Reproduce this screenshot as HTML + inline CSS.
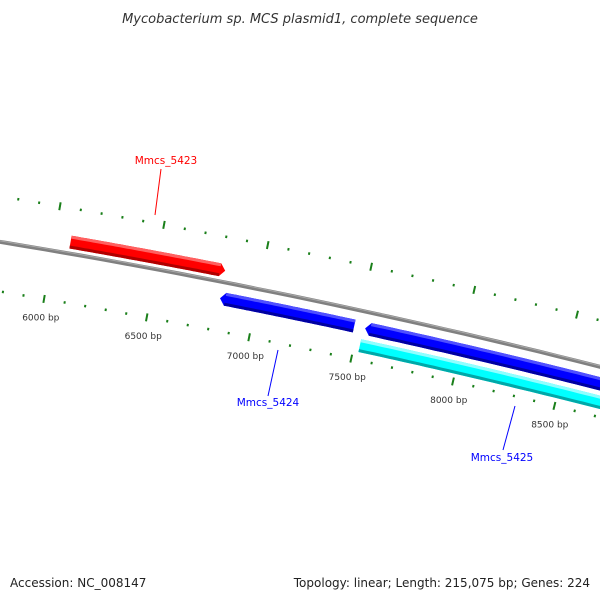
<!DOCTYPE html>
<html><head><meta charset="utf-8"><style>
html,body{margin:0;padding:0;background:#fff;}
svg{display:block;font-family:"DejaVu Sans","Liberation Sans",sans-serif;}
</style></head><body>
<svg id="map" width="600" height="600" viewBox="0 0 600 600">
<text x="300" y="23" text-anchor="middle" font-size="13" font-style="italic" fill="#333">Mycobacterium sp. MCS plasmid1, complete sequence</text>
<text x="10" y="587" font-size="12" fill="#222">Accession: NC_008147</text>
<text x="590" y="587" text-anchor="end" font-size="12" fill="#222">Topology: linear; Length: 215,075 bp; Genes: 224</text>
<g id="layer"></g>
</svg>
<script>
const tickBps = [5800,5900,6000,6100,6200,6300,6400,6500,6600,6700,6800,6900,7000,7100,7200,7300,7400,7500,7600,7700,7800,7900,8000,8100,8200,8300,8400,8500,8600,8700];
const majorLabels = ["6000 bp","6500 bp","7000 bp","7500 bp","8000 bp","8500 bp"];
const majorBps = [6000,6500,7000,7500,8000,8500];
const geneNames = ["Mmcs_5423","Mmcs_5424","Mmcs_5424b","Mmcs_5425"];
const geneStarts = [6078,6827,7534,7527];
const geneEnds = [6826,7481,9000,9000];
const geneStrand = [1,-1,-1,-1];
const geneLabels = ["Mmcs_5423","Mmcs_5424","","Mmcs_5425"];
const geneLabelBp = [6430,7210,0,8230];

const CX=-1164, CY=7337, R=7190, K=2*Math.PI/215075, A0=0.16999;
const NS="http://www.w3.org/2000/svg";
const layer=document.getElementById('layer');
function ang(bp){return A0+(bp-6000)*K;}
function pt(r,bp){const a=ang(bp);return [CX+r*Math.sin(a),CY-r*Math.cos(a)];}
function mk(tag,attrs){const e=document.createElementNS(NS,tag);for(const k in attrs)e.setAttribute(k,attrs[k]);layer.appendChild(e);return e;}
function arcPts(r,b0,b1){const p=[];const n=40;for(let i=0;i<=n;i++){p.push(pt(r,b0+(b1-b0)*i/n));}return p;}
function band(r0,r1,b0,b1){const a=arcPts(r1,b0,b1),b=arcPts(r0,b0,b1).reverse();return a.concat(b).map(q=>q[0].toFixed(1)+','+q[1].toFixed(1)).join(' ');}

// backbone
const bb=arcPts(R,5500,9200).map(q=>q[0].toFixed(1)+','+q[1].toFixed(1)).join(' ');
let e=mk('polyline',{points:bb,fill:'none',stroke:'#808080','stroke-width':4});


e=mk('polyline',{points:arcPts(R+1,5500,9200).map(q=>q.join(',')).join(' '),fill:'none',stroke:'#a8a8a8','stroke-width':1});



// ticks
const rulers=[{r:7235,dir:1},{r:7141,dir:-1}];
rulers.forEach((ru,ri)=>{
  tickBps.forEach(bp=>{
    const major=bp%500===0;
    const len=major?8:2.5;
    const p0=pt(ru.r-len/2,bp),p1=pt(ru.r+len/2,bp);
    const t=mk('line',{x1:p0[0],y1:p0[1],x2:p1[0],y2:p1[1],stroke:'#1a7f1a','stroke-width':2});
    
    
  });
});
majorBps.forEach((bp,i)=>{
  const p=pt(7122,bp);
  const t=mk('text',{x:p[0].toFixed(1),y:(p[1]+3).toFixed(1),'text-anchor':'middle','font-size':'9',fill:'#333'});
  t.textContent=majorLabels[i];
  
  
});

// genes
const tracks={1:[R+5,R+18],'-1':[R-23,R-10]};
const colors=['#ff0000','#0000ff','#0000ff','#00ffff'];
const lights=['#ff6060','#5050ff','#5050ff','#90ffff'];
const darks=['#b00000','#0000a0','#0000a0','#00a8a8'];
geneNames.forEach((g,i)=>{
  let r0,r1;
  if(i===3){r0=R-41;r1=R-28;}else{[r0,r1]=tracks[geneStrand[i]];}
  const s=geneStarts[i],en=geneEnds[i],tip=25;
  let pts;
  const mid=(r0+r1)/2;
  if(geneStrand[i]===1){
    const a=arcPts(r1,s,en-tip),b=arcPts(r0,s,en-tip).reverse();
    pts=a.concat([pt(mid,en)],b);
  } else if(i===3){
    pts=arcPts(r1,s,en).concat(arcPts(r0,s,en).reverse());
  } else {
    const a=arcPts(r1,s+tip,en),b=arcPts(r0,s+tip,en).reverse();
    pts=a.concat(b,[pt(mid,s)]);
  }
  const gp=mk('polygon',{points:pts.map(q=>q[0].toFixed(1)+','+q[1].toFixed(1)).join(' '),fill:colors[i]});
  
  
  const st=geneStrand[i]===1?en-tip:en, ss=geneStrand[i]===1||i===3?s:s+tip;
  const hl=mk('polygon',{points:band(r1-3,r1,ss,st),fill:lights[i]});
  
  
  const dk=mk('polygon',{points:band(r0,r0+3,ss,st),fill:darks[i]});
  
  
});

// gene labels
const labelPos=[[166,164],[268,406],[502,461]];
const lineEnds=[[[161,169],[155,215]],[[278,350],[268,396]],[[515,406],[503,450]]];
const labelColors=['#ff0000','#0000ff','#0000ff'];
let li=0;
geneLabels.forEach((lab,i)=>{
  if(!lab)return;
  const le=lineEnds[li];
  const l=mk('line',{x1:le[0][0],y1:le[0][1],x2:le[1][0],y2:le[1][1],stroke:labelColors[li],'stroke-width':1});
  
  
  const t=mk('text',{x:labelPos[li][0],y:labelPos[li][1],'text-anchor':'middle','font-size':'10.5',fill:labelColors[li]});
  t.textContent=lab;
  
  
  li++;
});
</script>
</body></html>
